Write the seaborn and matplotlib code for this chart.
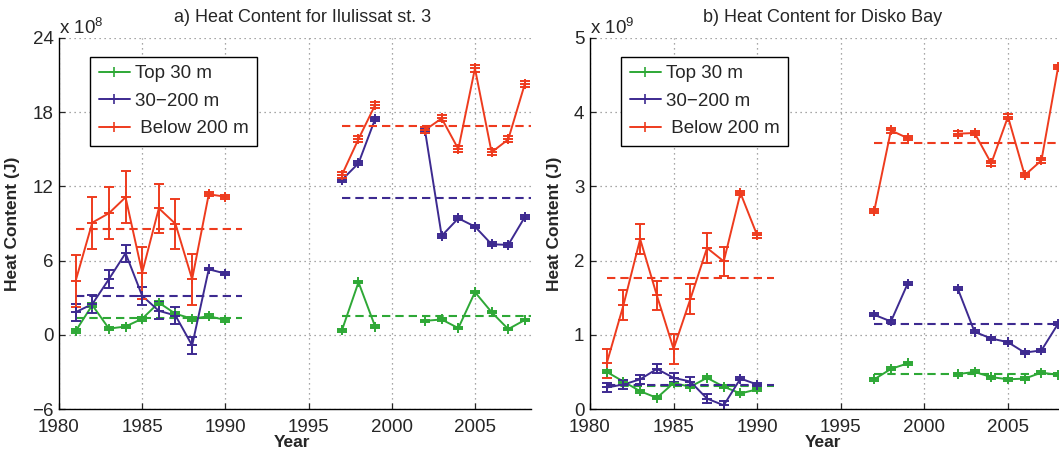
import numpy as np
import pandas as pd
import matplotlib
matplotlib.use("Agg")
import matplotlib.pyplot as plt
from matplotlib.lines import Line2D
import seaborn as sns

# ---------------------------------------------------------------- data
years = [1981, 1982, 1983, 1984, 1985, 1986, 1987, 1988, 1989, 1990,
         1997, 1998, 1999,
         2002, 2003, 2004, 2005, 2006, 2007, 2008]
segment = [0] * 10 + [1] * 3 + [2] * 7

layers = ["Top 30 m", "30\u2212200 m", "Below 200 m"]
legend_labels = ["Top 30 m", "30\u2212200 m", " Below 200 m"]

# a) Ilulissat st. 3, units of 1e8 J
ilu_top30 = [0.3, 2.4, 0.5, 0.67, 1.3, 2.6, 1.7, 1.3, 1.5, 1.2,
             0.35, 4.25, 0.67,
             1.13, 1.24, 0.54, 3.45, 1.83, 0.46, 1.2]
ilu_mid = [1.83, 2.48, 4.5, 6.6, 3.15, 1.94, 1.56, -0.86, 5.3, 4.95,
           12.52, 13.87, 17.45,
           16.5, 8.0, 9.42, 8.75, 7.32, 7.27, 9.53]
ilu_deep = [4.36, 9.07, 9.83, 11.12, 5.03, 10.23, 8.97, 4.5, 11.36, 11.17,
            12.92, 15.83, 18.58,
            16.56, 17.5, 15.02, 21.54, 14.76, 15.8, 20.3]
ilu_top30_err = [0.15] * 10 + [0.1] * 10
ilu_mid_err = [0.7] * 8 + [0.1, 0.1] + [0.15] * 10
ilu_deep_err = [2.1, 2.1, 2.1, 2.1, 2.1, 2.0, 2.05, 2.05, 0.15, 0.15] + [0.25] * 10
ilu_means = {"Top 30 m": [1.35, 1.56],
             "30\u2212200 m": [3.12, 11.04],
             "Below 200 m": [8.53, 16.88]}

# b) Disko Bay, units of 1e9 J
dis_top30 = [0.50, 0.37, 0.24, 0.15, 0.35, 0.30, 0.42, 0.30, 0.21, 0.265,
             0.40, 0.54, 0.615,
             0.47, 0.50, 0.43, 0.40, 0.41, 0.49, 0.46]
dis_mid = [0.29, 0.33, 0.40, 0.54, 0.42, 0.37, 0.14, 0.05, 0.41, 0.33,
           1.27, 1.18, 1.69,
           1.62, 1.04, 0.95, 0.90, 0.76, 0.79, 1.15]
dis_deep = [0.615, 1.40, 2.29, 1.53, 0.81, 1.48, 2.17, 1.99, 2.91, 2.34,
            2.67, 3.755, 3.65,
            3.71, 3.72, 3.31, 3.94, 3.15, 3.35, 4.61]
dis_top30_err = [0.02] * 20
dis_mid_err = [0.06] * 8 + [0.02] * 12
dis_deep_err = [0.2] * 8 + [0.03] * 12
dis_means = {"Top 30 m": [0.31, 0.47],
             "30\u2212200 m": [0.32, 1.14],
             "Below 200 m": [1.76, 3.585]}

mean_spans = [(1981, 1991), (1997, 2010)]

# ---------------------------------------------------------------- style
sns.set_style("ticks")
plt.rcParams["font.family"] = ["Liberation Sans", "DejaVu Sans"]
plt.rcParams["mathtext.default"] = "regular"

palette = {"Top 30 m": "#2EA836",
           "30\u2212200 m": "#3D2A90",
           "Below 200 m": "#EE3B1E"}


def build_frame(values, errors):
    frames = []
    for layer in layers:
        frames.append(pd.DataFrame({
            "year": years,
            "value": values[layer],
            "err": errors[layer],
            "segment": segment,
            "layer": layer,
        }))
    return pd.concat(frames, ignore_index=True)


def draw_panel(ax, df, means, ylim, yticks, title, exponent,
               title_x, ylabel_x, xlabel_x):
    for layer in layers:
        sub = df[df["layer"] == layer]
        color = palette[layer]
        sns.lineplot(data=sub, x="year", y="value", units="segment",
                     estimator=None, color=color, linewidth=1.4,
                     legend=False, ax=ax)
        ax.errorbar(sub["year"], sub["value"], yerr=sub["err"], fmt="+",
                    color=color, ecolor=color, markersize=7,
                    markeredgewidth=1.4, elinewidth=1.4, capsize=3.6,
                    capthick=1.4)
        for (x0, x1), m in zip(mean_spans, means[layer]):
            ax.plot([x0, x1], [m, m], color=color, linewidth=1.5,
                    dashes=(4, 2.4))

    ax.set_xlim(1980, 2008.35)
    ax.set_ylim(*ylim)
    ax.set_xticks(np.arange(1980, 2010, 5))
    ax.set_yticks(yticks)
    ax.grid(True, linestyle=(0, (1, 3)), color="#8a8a8a", linewidth=0.9)
    ax.tick_params(direction="in", length=4, width=0.9, labelsize=13.5,
                   top=False, right=False, pad=4)
    ax.tick_params(axis="x", pad=7)
    for side in ("top", "right"):
        ax.spines[side].set_visible(False)
    for side in ("left", "bottom"):
        ax.spines[side].set_linewidth(1.0)
        ax.spines[side].set_color("black")

    ax.text(title_x, 1.054, title, transform=ax.transAxes, ha="center",
            va="center", fontsize=13)
    ax.text(0.0, 1.027, "x 10$^{%d}$" % exponent, transform=ax.transAxes,
            ha="left", va="center", fontsize=13.5)

    ax.set_ylabel("Heat Content (J)", fontsize=12.5, fontweight="bold")
    ax.yaxis.set_label_coords(ylabel_x, 0.5)
    ax.set_xlabel("Year", fontsize=12.5, fontweight="bold")
    ax.xaxis.set_label_coords(xlabel_x, -0.070)

    handles = [Line2D([0], [0], color=palette[l], linewidth=1.4, marker="+",
                      markersize=7, markeredgewidth=1.2) for l in layers]
    leg = ax.legend(handles, legend_labels, loc="upper left",
                    bbox_to_anchor=(0.066, 0.949), borderaxespad=0,
                    fontsize=13.5, frameon=True, fancybox=False,
                    framealpha=1, edgecolor="black", handlelength=1.65,
                    handletextpad=0.3, labelspacing=0.55, borderpad=0.45,
                    markerfirst=True)
    leg.get_frame().set_linewidth(1.0)
    leg.set_zorder(10)


fig = plt.figure(figsize=(10.59, 4.51), dpi=100)
ax_a = fig.add_axes([59 / 1059, 42 / 451, 471.7 / 1059, 371 / 451])
ax_b = fig.add_axes([590 / 1059, 42 / 451, 474 / 1059, 371 / 451])

df_a = build_frame(
    {"Top 30 m": ilu_top30, "30\u2212200 m": ilu_mid, "Below 200 m": ilu_deep},
    {"Top 30 m": ilu_top30_err, "30\u2212200 m": ilu_mid_err,
     "Below 200 m": ilu_deep_err})
df_b = build_frame(
    {"Top 30 m": dis_top30, "30\u2212200 m": dis_mid, "Below 200 m": dis_deep},
    {"Top 30 m": dis_top30_err, "30\u2212200 m": dis_mid_err,
     "Below 200 m": dis_deep_err})

draw_panel(ax_a, df_a, ilu_means, (-6, 24), [-6, 0, 6, 12, 18, 24],
           "a) Heat Content for Ilulissat st. 3", 8,
           title_x=0.517, ylabel_x=-0.083, xlabel_x=0.494)
draw_panel(ax_b, df_b, dis_means, (0, 5), [0, 1, 2, 3, 4, 5],
           "b) Heat Content for Disko Bay", 9,
           title_x=0.49, ylabel_x=-0.060, xlabel_x=0.4916)

fig.savefig("out.png", dpi=100)
